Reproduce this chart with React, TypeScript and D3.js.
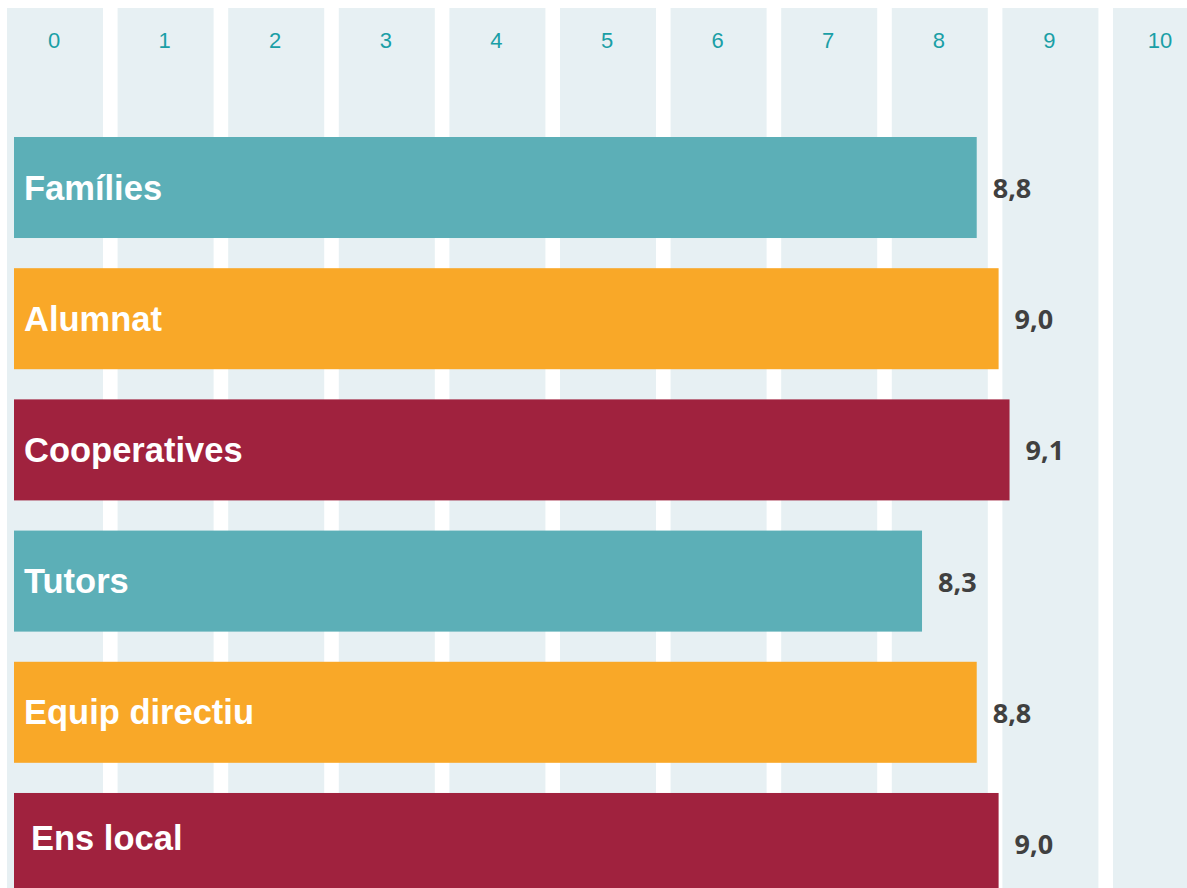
import React from "react";
import * as d3 from "d3";

const categories = ["Famílies", "Alumnat", "Cooperatives", "Tutors", "Equip directiu", "Ens local"];
const values = [8.8, 9.0, 9.1, 8.3, 8.8, 9.0];
const barColors = ["#5cafb7", "#f9a828", "#a0223e", "#5cafb7", "#f9a828", "#a0223e"];
const ticks = [0, 1, 2, 3, 4, 5, 6, 7, 8, 9, 10];

const W = 1187;
const H = 888;

export default function App() {
  const x = d3.scaleLinear().domain([0, 10]).range([14, 1108]);
  const col = d3
    .scaleBand<number>()
    .domain(ticks)
    .range([7, 1209])
    .paddingInner(0.132)
    .paddingOuter(0);
  const y = d3
    .scaleBand<string>()
    .domain(categories)
    .range([137, 894])
    .paddingInner(0.23)
    .paddingOuter(0);
  const fmt = (v: number) => d3.format(".1f")(v).replace(".", ",");

  return (
    <svg
      width={W}
      height={H}
      style={{ position: "absolute", left: 0, top: 0, display: "block" }}
    >
      <rect x={0} y={0} width={W} height={H} fill="#ffffff" />
      {ticks.map((t) => (
        <g key={t}>
          <rect x={col(t)} y={8} width={col.bandwidth()} height={H - 8} fill="#e7f0f3" />
          <text
            x={(col(t) as number) + col.bandwidth() / 2 - 1}
            y={48}
            textAnchor="middle"
            fontFamily="Liberation Sans, Arial, sans-serif"
            fontSize={22}
            fill="#1a9fa6"
          >
            {t}
          </text>
        </g>
      ))}
      {categories.map((c, i) => {
        const top = y(c) as number;
        const cy = top + y.bandwidth() / 2;
        const last = i === categories.length - 1;
        return (
          <g key={c}>
            <rect
              x={x(0)}
              y={top}
              width={x(values[i]) - x(0)}
              height={y.bandwidth()}
              fill={barColors[i]}
            />
            <text
              x={x(0) + (last ? 17 : 10)}
              y={cy + 12 - (last ? 5 : 0)}
              fontFamily="Liberation Sans, Arial, sans-serif"
              fontWeight="bold"
              fontSize={34.5}
              fill="#ffffff"
            >
              {c}
            </text>
            <text
              x={x(values[i]) + 16}
              y={cy + 10.5}
              fontFamily="Open Sans, sans-serif"
              fontWeight="bold"
              fontSize={27}
              fill="#404040"
            >
              {fmt(values[i])}
            </text>
          </g>
        );
      })}
    </svg>
  );
}
